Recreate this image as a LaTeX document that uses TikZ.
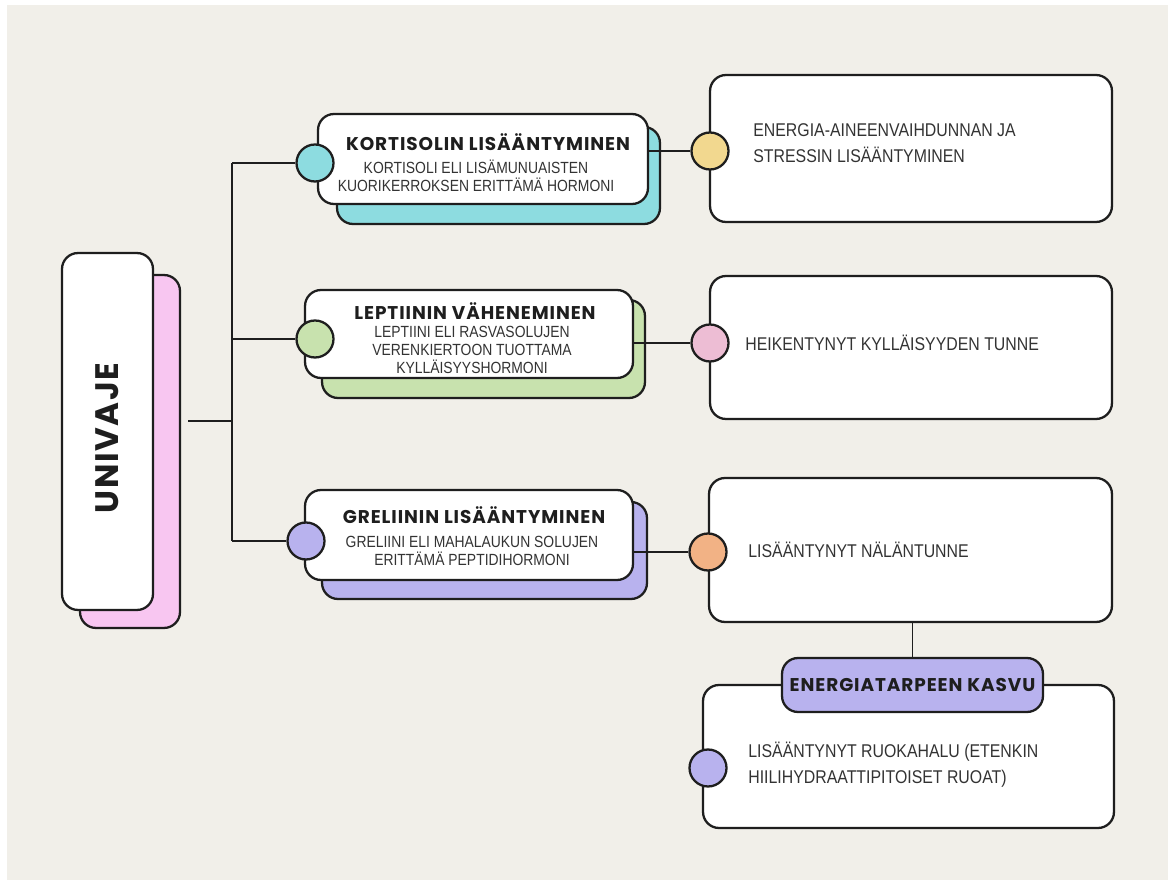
\documentclass[tikz,border=0pt]{standalone}
\usepackage{fontspec}
\setmainfont{Liberation Sans}[FakeStretch=0.86]
\newfontfamily\handfont{Poppins}[LetterSpace=5]
\definecolor{paper}{HTML}{F1EFE9}
\definecolor{ink}{HTML}{1E1E1E}
\definecolor{body}{HTML}{333333}
\definecolor{tealfill}{HTML}{8DDCE0}
\definecolor{greenfill}{HTML}{C8E2AE}
\definecolor{lilacfill}{HTML}{B8B2EE}
\definecolor{pinkfill}{HTML}{F8C6F1}
\definecolor{yellowfill}{HTML}{F2D88F}
\definecolor{rosefill}{HTML}{EDBDD4}
\definecolor{orangefill}{HTML}{F2B285}
\tikzset{
  card/.style={draw=ink, line width=1.3pt, rounded corners=0.32cm, fill=white, inner sep=0pt},
  dot/.style={circle, draw=ink, line width=1.3pt, minimum size=0.74cm, inner sep=0pt},
  link/.style={draw=ink, line width=1.1pt},
  heading/.style={font=\handfont\bfseries\fontsize{10.5}{12}\selectfont, text=ink, inner sep=0pt},
  sub/.style={font=\fontsize{9.2}{10}\selectfont, text=body, align=center, inner sep=0pt},
  note/.style={font=\fontsize{10.5}{15}\selectfont, text=body, align=left, anchor=west, inner sep=0pt}
}
\begin{document}
\begin{tikzpicture}[x=0.02cm, y=-0.02cm]
  \useasboundingbox (0,0) rectangle (1173,884);
  \fill[white] (0,0) rectangle (1173,884);
  \fill[paper] (7,5) rectangle (1168,880);

  % univaje
  \node[card, fill=pinkfill, minimum width=2cm, minimum height=7.06cm] (univ-bg) at (130,451.5) {};
  \node[card, minimum width=1.82cm, minimum height=7.14cm] (univ) at (107.5,431.5) {};
  \node[heading, rotate=90, font=\handfont\bfseries\fontsize{18.5}{18}\selectfont] (univ-t) at (107,438) {UNIVAJE};

  % tree
  \coordinate (root) at (188,421);
  \coordinate (hub) at (232,421);
  \coordinate (b1) at (232,163);
  \coordinate (b2) at (232,339);
  \coordinate (b3) at (232,541);
  \draw[link] (root) -- (hub);
  \draw[link] (b1) -- (b3);

  % hormone cards
  \node[card, fill=tealfill, minimum width=6.46cm, minimum height=1.94cm] (kort-bg) at (498.5,175.5) {};
  \node[card, fill=greenfill, minimum width=6.46cm, minimum height=1.96cm] (lept-bg) at (483.5,349) {};
  \node[card, fill=lilacfill, minimum width=6.5cm, minimum height=1.94cm] (grel-bg) at (484.5,550.5) {};
  \node[card, minimum width=6.6cm, minimum height=1.8cm] (kort) at (483,159) {};
  \node[card, minimum width=6.56cm, minimum height=1.76cm] (lept) at (469,334) {};
  \node[card, minimum width=6.56cm, minimum height=1.8cm] (grel) at (469,535) {};

  \node[heading] (kort-t) at (488,142) {KORTISOLIN LISÄÄNTYMINEN};
  \node[sub] (kort-s) at (476,176) {KORTISOLI ELI LISÄMUNUAISTEN\\KUORIKERROKSEN ERITTÄMÄ HORMONI};
  \node[heading] (lept-t) at (475,311) {LEPTIININ VÄHENEMINEN};
  \node[sub] (lept-s) at (472,350) {LEPTIINI ELI RASVASOLUJEN\\VERENKIERTOON TUOTTAMA\\KYLLÄISYYSHORMONI};
  \node[heading] (grel-t) at (474,515) {GRELIININ LISÄÄNTYMINEN};
  \node[sub] (grel-s) at (472,551) {GRELIINI ELI MAHALAUKUN SOLUJEN\\ERITTÄMÄ PEPTIDIHORMONI};

  % effect cards
  \node[card, minimum width=8.04cm, minimum height=2.94cm] (stress) at (911,148.5) {};
  \node[card, minimum width=8.04cm, minimum height=2.86cm] (satiety) at (911,347.5) {};
  \node[card, minimum width=8.06cm, minimum height=2.88cm] (hunger) at (910.5,550) {};
  \node[card, minimum width=8.22cm, minimum height=2.86cm] (appetite) at (908.5,756.5) {};
  \node[card, fill=lilacfill, minimum width=5.22cm, minimum height=1.08cm] (energy) at (912.5,685) {};
  \node[heading, font=\handfont\bfseries\fontsize{10.5}{12}\selectfont] (energy-t) at (energy) {ENERGIATARPEEN KASVU};
  \draw[link] (hunger.south -| energy) -- (energy.north);

  \node[note] (stress-t) at (753,143) {ENERGIA-AINEENVAIHDUNNAN JA\\STRESSIN LISÄÄNTYMINEN};
  \node[note] (satiety-t) at (745,343) {HEIKENTYNYT KYLLÄISYYDEN TUNNE};
  \node[note] (hunger-t) at (748,550) {LISÄÄNTYNYT NÄLÄNTUNNE};
  \node[note] (appetite-t) at (748,765) {LISÄÄNTYNYT RUOKAHALU (ETENKIN\\HIILIHYDRAATTIPITOISET RUOAT)};

  % dots
  \node[dot, fill=yellowfill] (d-stress) at (710,151) {};
  \node[dot, fill=rosefill] (d-satiety) at (710,343) {};
  \node[dot, fill=orangefill] (d-hunger) at (708,552) {};
  \node[dot, fill=lilacfill] (d-appetite) at (708,768) {};
  \draw[link] (kort.east |- d-stress) -- (d-stress);
  \draw[link] (lept.east |- d-satiety) -- (d-satiety);
  \draw[link] (grel.east |- d-hunger) -- (d-hunger);

  \node[dot, fill=tealfill] (d-kort) at (315,163) {};
  \node[dot, fill=greenfill] (d-lept) at (315,339) {};
  \node[dot, fill=lilacfill] (d-grel) at (306,541) {};
  \draw[link] (b1) -- (d-kort);
  \draw[link] (b2) -- (d-lept);
  \draw[link] (b3) -- (d-grel);
\end{tikzpicture}
\end{document}
